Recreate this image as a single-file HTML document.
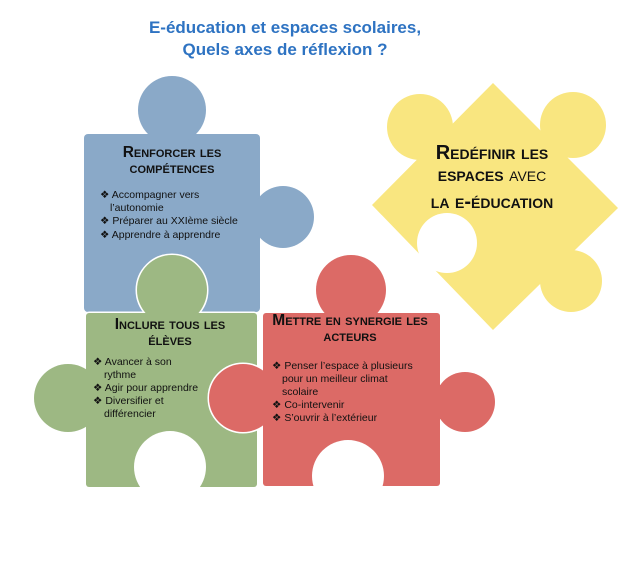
<!DOCTYPE html>
<html><head><meta charset="utf-8"><style>
html,body{margin:0;padding:0;background:#fff;}
svg{display:block;font-family:"Liberation Sans",Arial,sans-serif;}
.h{font-weight:bold;font-variant:small-caps;fill:#111;}
.b{font-size:10.5px;fill:#111;}
</style></head><body>
<svg width="640" height="565" viewBox="0 0 640 565">
<rect width="640" height="565" fill="#fff"/>
<text x="285" y="33" text-anchor="middle" font-size="17" font-weight="bold" fill="#2e73c2">E-éducation et espaces scolaires,</text>
<text x="285" y="55" text-anchor="middle" font-size="17" font-weight="bold" fill="#2e73c2">Quels axes de réflexion ?</text>

<!-- yellow -->
<g fill="#f9e680" stroke="#fff" stroke-width="3">
<polygon points="493,83 618,208 493,330 372,205"/>
<circle cx="420" cy="127" r="33"/><circle cx="573" cy="125" r="33"/><circle cx="571" cy="281" r="31"/>
</g>
<g fill="#f9e680">
<polygon points="493,83 618,208 493,330 372,205"/>
<circle cx="420" cy="127" r="33"/><circle cx="573" cy="125" r="33"/><circle cx="571" cy="281" r="31"/>
</g>
<circle cx="447" cy="243" r="30" fill="#fff"/>

<!-- blue -->
<g fill="#8aa9c8" stroke="#fff" stroke-width="3">
<rect x="84" y="134" width="176" height="178" rx="4"/><circle cx="172" cy="110" r="34"/><circle cx="283" cy="217" r="31"/>
</g>
<g fill="#8aa9c8">
<rect x="84" y="134" width="176" height="178" rx="4"/><circle cx="172" cy="110" r="34"/><circle cx="283" cy="217" r="31"/>
<rect x="150" y="125" width="44" height="14"/><rect x="250" y="200" width="15" height="34"/>
</g>

<!-- green -->
<g fill="#9db883" stroke="#fff" stroke-width="3">
<rect x="86" y="313" width="171" height="174" rx="3"/><circle cx="172" cy="290" r="35"/><circle cx="68" cy="398" r="34"/>
</g>
<g fill="#9db883">
<rect x="86" y="313" width="171" height="174" rx="3"/><circle cx="172" cy="290" r="35"/><circle cx="68" cy="398" r="34"/>
<rect x="150" y="305" width="44" height="12"/><rect x="80" y="380" width="10" height="36"/>
</g>
<circle cx="170" cy="467" r="36" fill="#fff"/>
<rect x="150" y="470" width="40" height="20" fill="#fff"/>

<!-- red -->
<g fill="#dc6a66" stroke="#fff" stroke-width="3">
<rect x="263" y="313" width="177" height="173" rx="3"/><circle cx="351" cy="290" r="35"/><circle cx="243" cy="398" r="34"/><circle cx="465" cy="402" r="30"/>
</g>
<g fill="#dc6a66">
<rect x="263" y="313" width="177" height="173" rx="3"/><circle cx="351" cy="290" r="35"/><circle cx="243" cy="398" r="34"/><circle cx="465" cy="402" r="30"/>
<rect x="330" y="305" width="42" height="12"/><rect x="255" y="380" width="12" height="36"/><rect x="435" y="385" width="12" height="34"/>
</g>
<circle cx="348" cy="476" r="36" fill="#fff"/>
<rect x="328" y="478" width="40" height="12" fill="#fff"/>

<!-- blue text -->
<text class="h" x="172" y="157" text-anchor="middle" font-size="15.5">Renforcer les</text>
<text class="h" x="172" y="173" text-anchor="middle" font-size="15.5">compétences</text>
<text class="b" x="100" y="198">❖ Accompagner vers</text>
<text class="b" x="110" y="211">l’autonomie</text>
<text class="b" x="100" y="224">❖ Préparer au XXIème siècle</text>
<text class="b" x="100" y="238">❖ Apprendre à apprendre</text>

<!-- green text -->
<text class="h" x="170" y="329" text-anchor="middle" font-size="15.5">Inclure tous les</text>
<text class="h" x="170" y="345" text-anchor="middle" font-size="15.5">élèves</text>
<text class="b" x="93" y="365">❖ Avancer à son</text>
<text class="b" x="104" y="378">rythme</text>
<text class="b" x="93" y="391">❖ Agir pour apprendre</text>
<text class="b" x="93" y="404">❖ Diversifier et</text>
<text class="b" x="104" y="417">différencier</text>

<!-- red text -->
<text class="h" x="350" y="325" text-anchor="middle" font-size="15.5">Mettre en synergie les</text>
<text class="h" x="350" y="341" text-anchor="middle" font-size="15.5">acteurs</text>
<text class="b" x="272" y="369">❖ Penser l’espace à plusieurs</text>
<text class="b" x="282" y="382">pour un meilleur climat</text>
<text class="b" x="282" y="395">scolaire</text>
<text class="b" x="272" y="408">❖ Co-intervenir</text>
<text class="b" x="272" y="421">❖ S’ouvrir à l’extérieur</text>

<!-- yellow text -->
<text class="h" x="492" y="159" text-anchor="middle" font-size="20">Redéfinir les</text>
<text x="492" y="181" text-anchor="middle" font-size="20" fill="#111"><tspan class="h">espaces</tspan><tspan style="font-variant:small-caps"> avec</tspan></text>
<text class="h" x="492" y="208" text-anchor="middle" font-size="20">la e-éducation</text>
</svg>
</body></html>
